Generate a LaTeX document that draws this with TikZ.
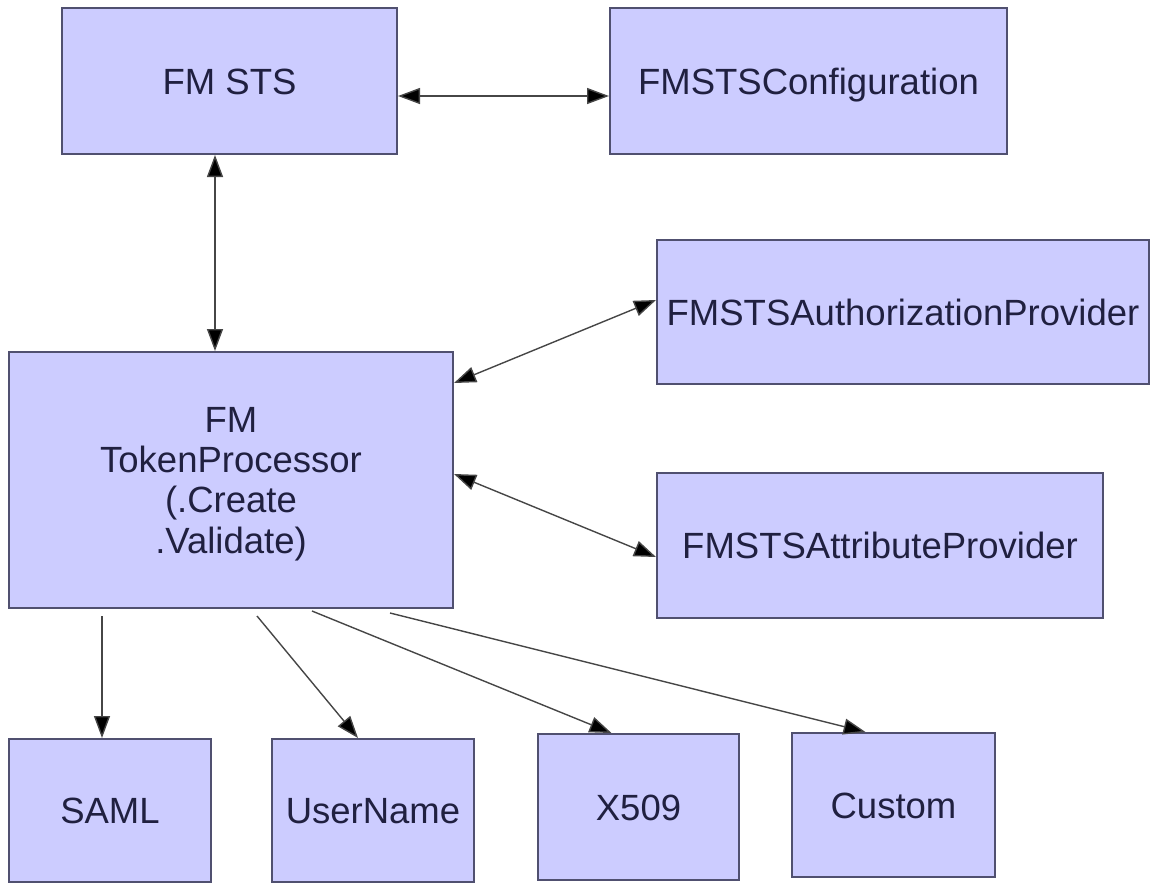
\documentclass[tikz,border=0pt]{standalone}
\usepackage{fontspec}
\setmainfont{Liberation Sans}
\usetikzlibrary{arrows.meta}
\definecolor{boxfill}{RGB}{204,204,255}
\definecolor{boxline}{RGB}{80,80,112}
\definecolor{boxtext}{RGB}{32,32,64}
\definecolor{conn}{RGB}{70,70,70}
\tikzset{
  box/.style={draw=boxline, fill=boxfill, line width=2pt, inner sep=0pt,
    text=boxtext, font=\fontsize{36.5}{40.3}\selectfont},
  oneline/.style={text height=26pt, text depth=0pt},
  tip/.style={Triangle[length=22pt,width=16pt,fill=black]},
  link/.style={draw=conn, line width=1.4pt, -{Triangle[length=22pt,width=16pt,fill=black]}},
  dlink/.style={draw=conn, line width=1.4pt, {Triangle[length=22pt,width=16pt,fill=black]}-{Triangle[length=22pt,width=16pt,fill=black]}}
}
\begin{document}
\begin{tikzpicture}[x=1pt,y=-1pt]
\useasboundingbox (0,0) rectangle (1151,884);
\node[box,oneline,minimum width=335pt,minimum height=146pt] (sts) at (229.5,81) {FM STS};
\node[box,oneline,minimum width=397pt,minimum height=146pt] (cfg) at (808.5,81) {FMSTSConfiguration};
\node[box,oneline,minimum width=492pt,minimum height=144pt] (auth) at (903,312) {FMSTSAuthorizationProvider};
\node[box,align=center,text depth=0pt,minimum width=444pt,minimum height=256pt] (tp) at (231,480) {FM\\TokenProcessor\\(.Create\\.Validate)};
\node[box,oneline,minimum width=446pt,minimum height=145pt] (attr) at (880,545.5) {FMSTSAttributeProvider};
\node[box,oneline,minimum width=202pt,minimum height=143pt] (saml) at (110,810.5) {SAML};
\node[box,oneline,minimum width=202pt,minimum height=143pt] (un) at (373,810.5) {UserName};
\node[box,oneline,minimum width=201pt,minimum height=146pt] (x509) at (638.5,807) {X509};
\node[box,oneline,minimum width=203pt,minimum height=144pt] (cu) at (893.5,805) {Custom};

\draw[dlink] ([yshift=-15pt]sts.east) -- ([yshift=-15pt]sts.east -| cfg.west);
\draw[dlink] ([xshift=-14.5pt]sts.south) -- ([xshift=-14.5pt]sts.south |- tp.north);
\draw[dlink] ([yshift=97pt]tp.east) -- ([yshift=12pt]auth.west);
\draw[dlink] ([yshift=6pt]tp.east) -- ([yshift=-11.5pt]attr.west);

\draw[link] ([xshift=94pt,yshift=-7pt]tp.south west) -- ([xshift=94pt]tp.south west |- saml.north);
\draw[link] ([xshift=249pt,yshift=-7pt]tp.south west) -- ([xshift=-15pt]un.north);
\draw[link] ([xshift=304pt,yshift=-2pt]tp.south west) -- ([xshift=-27pt]x509.north);
\draw[link] ([xshift=382pt,yshift=-4pt]tp.south west) -- ([xshift=-28pt]cu.north);
\end{tikzpicture}
\end{document}
